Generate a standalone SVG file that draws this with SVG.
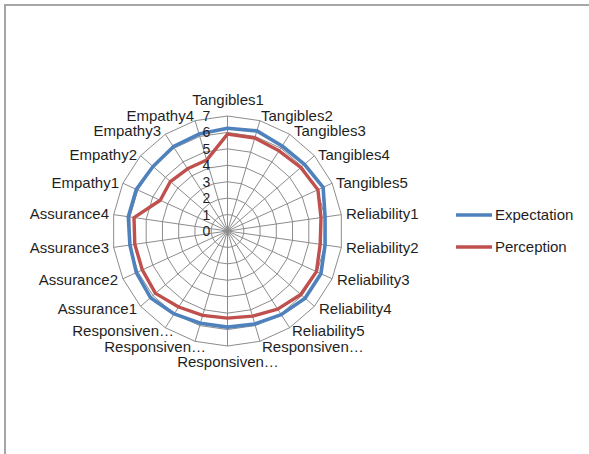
<svg xmlns="http://www.w3.org/2000/svg" xmlns:xlink="http://www.w3.org/1999/xlink" width="589" height="454" viewBox="0 0 589 454">
<style>
.lbl{font-family:"Liberation Sans",Arial,sans-serif;font-size:15px;fill:#1f1f1f}
.num{font-family:"Liberation Sans",Arial,sans-serif;font-size:14px;fill:#1f1f1f;text-anchor:middle}
.end{text-anchor:end}
.mid{text-anchor:middle}
.grid{fill:none;stroke:#8c8c8c;stroke-width:1;vector-effect:non-scaling-stroke}
.exp{fill:none;stroke:#4f81bd;stroke-width:3.6;stroke-linejoin:round}
.per{fill:none;stroke:#c0504d;stroke-width:3.4;stroke-linejoin:round}
</style>
<defs>
<polygon id="ring" class="grid" points="0,-115 32.40,-110.34 62.17,-96.74 86.91,-75.31 104.61,-47.77 113.83,-16.37 113.83,16.37 104.61,47.77 86.91,75.31 62.17,96.74 32.40,110.34 0,115 -32.40,110.34 -62.17,96.74 -86.91,75.31 -104.61,47.77 -113.83,16.37 -113.83,-16.37 -104.61,-47.77 -86.91,-75.31 -62.17,-96.74 -32.40,-110.34"/>
</defs>
<rect width="589" height="454" fill="#ffffff"/>
<path d="M5,454 V5 H589" fill="none" stroke="#a6a6a6" stroke-width="2"/>
<g id="grid" transform="translate(227.5,231)">
<use xlink:href="#ring" transform="scale(0.142857)"/>
<use xlink:href="#ring" transform="scale(0.285714)"/>
<use xlink:href="#ring" transform="scale(0.428571)"/>
<use xlink:href="#ring" transform="scale(0.571429)"/>
<use xlink:href="#ring" transform="scale(0.714286)"/>
<use xlink:href="#ring" transform="scale(0.857143)"/>
<use xlink:href="#ring"/>
<path class="grid" d="M0,0L0,-115M0,0L32.40,-110.34M0,0L62.17,-96.74M0,0L86.91,-75.31M0,0L104.61,-47.77M0,0L113.83,-16.37M0,0L113.83,16.37M0,0L104.61,47.77M0,0L86.91,75.31M0,0L62.17,96.74M0,0L32.40,110.34M0,0L0,115M0,0L-32.40,110.34M0,0L-62.17,96.74M0,0L-86.91,75.31M0,0L-104.61,47.77M0,0L-113.83,16.37M0,0L-113.83,-16.37M0,0L-104.61,-47.77M0,0L-86.91,-75.31M0,0L-62.17,-96.74M0,0L-32.40,-110.34"/>
</g>
<g id="connectors">
<polygon id="expectation" class="exp" points="227.5,128.32 256.89,130.91 282.13,146.00 304.48,164.30 323.14,187.32 325.07,216.97 325.07,245.03 320.90,273.66 305.10,298.24 281.23,314.61 254.81,324.00 227.5,327.11 200.42,323.21 174.21,313.92 150.52,297.70 136.34,272.63 129.93,245.03 128.31,216.74 136.34,189.37 153.01,166.45 173.32,146.70 199.03,134.05"/>
<polygon id="perception" class="per" points="227.5,134.07 254.81,138.00 279.02,150.84 300.75,167.52 317.91,189.71 321.00,217.56 320.19,244.33 316.42,271.61 300.75,294.48 277.68,309.09 252.49,316.12 227.5,318.07 202.74,315.33 178.65,307.01 155.49,293.40 142.32,269.90 134.81,244.33 134.00,217.56 160.25,200.29 170.39,181.51 187.53,168.81 206.67,160.07"/>
</g>
<g id="axis-values">
<text class="num" x="206.5" y="236">0</text>
<text class="num" x="206.5" y="219.6">1</text>
<text class="num" x="206.5" y="203.1">2</text>
<text class="num" x="206.5" y="186.7">3</text>
<text class="num" x="206.5" y="170.3">4</text>
<text class="num" x="206.5" y="153.9">5</text>
<text class="num" x="206.5" y="137.4">6</text>
<text class="num" x="206.5" y="121">7</text>
</g>
<g id="category-labels">
<g id="t1"><text class="lbl mid" x="228" y="105">Tangibles1</text></g>
<g id="t2"><text class="lbl" x="261" y="120.5">Tangibles2</text></g>
<g id="t3"><text class="lbl" x="294" y="136">Tangibles3</text></g>
<g id="t4"><text class="lbl" x="318" y="160">Tangibles4</text></g>
<g id="t5"><text class="lbl" x="336" y="188">Tangibles5</text></g>
<g id="r1"><text class="lbl" x="346" y="219">Reliability1</text></g>
<g id="r2"><text class="lbl" x="346" y="253">Reliability2</text></g>
<g id="r3"><text class="lbl" x="337" y="285">Reliability3</text></g>
<g id="r4"><text class="lbl" x="319" y="314">Reliability4</text></g>
<g id="r5"><text class="lbl" x="292" y="336">Reliability5</text></g>
<g id="rs1"><text class="lbl" x="262" y="352">Responsiven…</text></g>
<g id="rs2"><text class="lbl mid" x="228" y="367">Responsiven…</text></g>
<g id="rs3"><text class="lbl end" x="206" y="352">Responsiven…</text></g>
<g id="rs4"><text class="lbl end" x="174" y="336">Responsiven…</text></g>
<g id="a1"><text class="lbl end" x="137" y="314">Assurance1</text></g>
<g id="a2"><text class="lbl end" x="118" y="285">Assurance2</text></g>
<g id="a3"><text class="lbl end" x="109" y="253">Assurance3</text></g>
<g id="a4"><text class="lbl end" x="109" y="219">Assurance4</text></g>
<g id="e1"><text class="lbl end" x="119" y="188">Empathy1</text></g>
<g id="e2"><text class="lbl end" x="137" y="160">Empathy2</text></g>
<g id="e3"><text class="lbl end" x="161" y="136">Empathy3</text></g>
<g id="e4"><text class="lbl end" x="194" y="120.5">Empathy4</text></g>
</g>
<g id="legend">
<g id="legend-exp"><line x1="456" y1="215" x2="492" y2="215" stroke="#4f81bd" stroke-width="3.6"/><text class="lbl" x="495" y="220">Expectation</text></g>
<g id="legend-per"><line x1="456" y1="247" x2="492" y2="247" stroke="#c0504d" stroke-width="3.4"/><text class="lbl" x="495" y="252">Perception</text></g>
</g>
</svg>
